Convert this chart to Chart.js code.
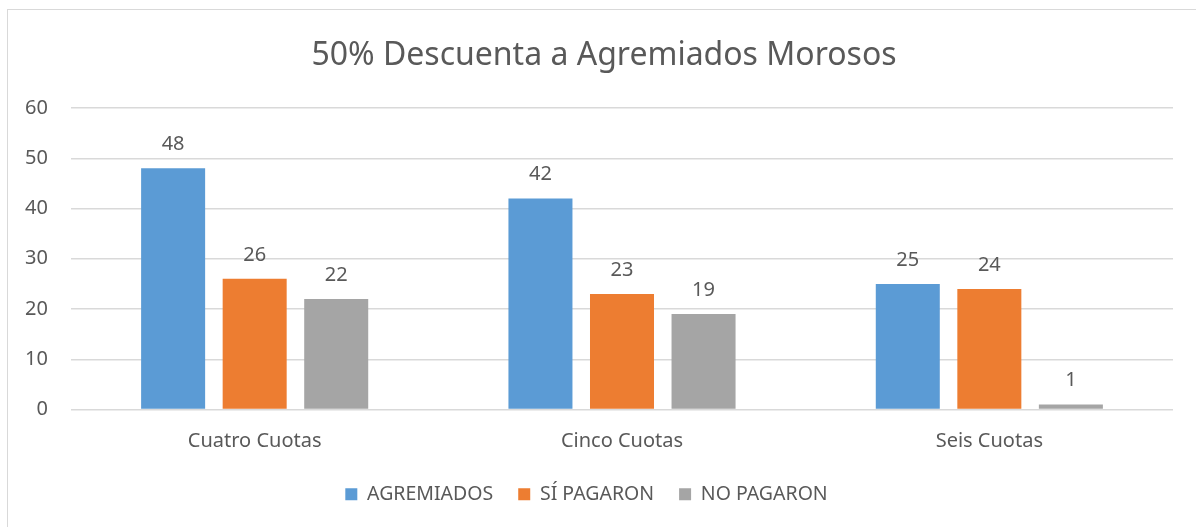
<!DOCTYPE html>
<html>
<head>
<meta charset="utf-8">
<script src="https://cdn.jsdelivr.net/npm/chart.js@4/dist/chart.umd.min.js"></script>
<style>
  html, body { margin: 0; padding: 0; background: #fff; }
  .frame {
    position: absolute; left: 7px; top: 9px; width: 1300px; height: 600px;
    border: 1px solid #d9d9d9; box-sizing: border-box;
  }
  .wrap { position: absolute; left: 0; top: 0; width: 1196px; height: 527px; }
</style>
</head>
<body>
<div class="frame"></div>
<div class="wrap"><canvas id="myChart" width="1196" height="527"></canvas></div>
<script>
const categories = ["Cuatro Cuotas", "Cinco Cuotas", "Seis Cuotas"];
const agremiados = [48, 42, 25];
const siPagaron = [26, 23, 24];
const noPagaron = [22, 19, 1];
const yTicks = [0, 10, 20, 30, 40, 50, 60];
const chartTitle = "50% Descuenta a Agremiados Morosos";

const textColor = "#595959";
const fontFamily = "'Noto Sans', sans-serif";

// value labels above each bar + the title (centred on the frame, not the plot)
const barLabels = {
  id: "barLabels",
  afterDatasetsDraw(chart) {
    const ctx = chart.ctx;
    ctx.save();
    ctx.fillStyle = textColor;
    ctx.font = "20px " + fontFamily;
    ctx.textAlign = "center";
    ctx.textBaseline = "alphabetic";
    chart.data.datasets.forEach((ds, i) => {
      chart.getDatasetMeta(i).data.forEach((bar, j) => {
        ctx.fillText(ds.data[j], bar.x, bar.y - 18);
      });
    });
    ctx.font = "32px " + fontFamily;
    ctx.fillText(chartTitle, 604, 65);
    ctx.restore();
  },
};

const ctx = document.getElementById("myChart").getContext("2d");

window.myChart = new Chart(ctx, {
  type: "bar",
  data: {
    labels: categories,
    datasets: [
      { label: "AGREMIADOS", data: agremiados, backgroundColor: "#5B9BD5" },
      { label: "SÍ PAGARON", data: siPagaron, backgroundColor: "#ED7D31" },
      { label: "NO PAGARON", data: noPagaron, backgroundColor: "#A5A5A5" },
    ],
  },
  options: {
    responsive: false,
    animation: false,
    devicePixelRatio: 1,
    categoryPercentage: 0.666,
    barPercentage: 0.785,
    layout: {
      padding: { left: 0, right: 23, top: 108, bottom: 13 },
    },
    scales: {
      x: {
        afterFit: (scale) => {
          scale.height = 50;
        },
        grid: { display: false, drawTicks: false },
        border: { display: false },
        ticks: {
          color: textColor,
          font: { size: 20, family: fontFamily },
          padding: 20,
        },
      },
      y: {
        min: 0,
        max: 60,
        afterBuildTicks: (scale) => {
          scale.ticks = yTicks.map((v) => ({ value: v }));
        },
        afterFit: (scale) => {
          scale.width = 71;
        },
        grid: { color: "#d9d9d9", lineWidth: 1.5, drawTicks: false },
        border: { display: false },
        ticks: {
          color: textColor,
          font: { size: 20, family: fontFamily },
          padding: 23,
        },
      },
    },
    plugins: {
      title: { display: false },
      legend: {
        position: "bottom",
        labels: {
          color: textColor,
          font: { size: 19.5, family: fontFamily },
          boxWidth: 12,
          boxHeight: 12,
          padding: 25,
        },
      },
      tooltip: { enabled: false },
    },
  },
  plugins: [barLabels],
});
</script>
</body>
</html>
